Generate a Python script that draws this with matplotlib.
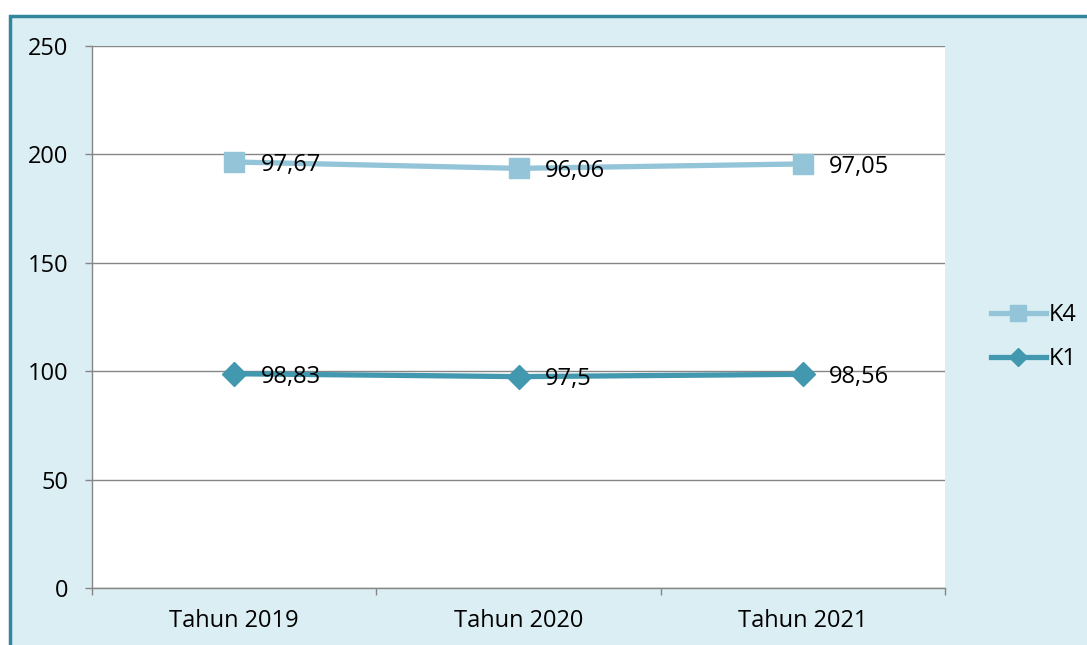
import numpy as np
import matplotlib.pyplot as plt
from matplotlib.patches import Rectangle
from matplotlib.lines import Line2D

plt.rcParams['font.family'] = ['Open Sans', 'DejaVu Sans']

# data (stacked line chart: K4 sits on top of K1)
years = ['Tahun 2019', 'Tahun 2020', 'Tahun 2021']
k1 = [98.83, 97.5, 98.56]
k4 = [97.67, 96.06, 97.05]
k1_labels = ['98,83', '97,5', '98,56']
k4_labels = ['97,67', '96,06', '97,05']

c_k1 = '#4198AF'
c_k4 = '#93C4D7'
grid_c = '#868686'
fs = 17

fig = plt.figure(figsize=(10.87, 6.45), dpi=100)
fig.patch.set_facecolor('white')

# chart area background with border (runs off the right/bottom edge)
bg = Rectangle((10 / 1087, -0.1), 1.2, 1 - 16 / 645 + 0.1, transform=fig.transFigure,
               facecolor='#DBEEF3', edgecolor='#31859C', linewidth=2.5, zorder=-10)
fig.patches.append(bg)

ax = fig.add_axes([92 / 1087, 1 - 588 / 645, (945 - 92) / 1087, (588 - 46) / 645])
ax.set_facecolor('white')

x = np.arange(len(years))
top = np.array(k1) + np.array(k4)

ax.plot(x, top, color=c_k4, lw=3.8, marker='s', ms=15, zorder=3, solid_capstyle='round')
ax.plot(x, k1, color=c_k1, lw=3.8, marker='D', ms=12, zorder=3, solid_capstyle='round')

for xi, yi, t in zip(x, top, k4_labels):
    ax.annotate(t, (xi, yi), xytext=(19, -2), textcoords='offset points',
                ha='left', va='center', fontsize=fs, zorder=4)
for xi, yi, t in zip(x, k1, k1_labels):
    ax.annotate(t, (xi, yi), xytext=(19, -2), textcoords='offset points',
                ha='left', va='center', fontsize=fs, zorder=4)

ax.set_xlim(-0.5, 2.5)
ax.set_ylim(0, 250)
ax.set_yticks(np.arange(0, 251, 50))
ax.yaxis.grid(True, color=grid_c, lw=1)
ax.set_axisbelow(True)

ax.set_xticks([-0.5, 0.5, 1.5, 2.5])
ax.set_xticklabels([])
ax.set_xticks(x, minor=True)
ax.set_xticklabels(years, minor=True)
ax.tick_params(axis='x', which='major', length=5, color=grid_c, width=1)
ax.tick_params(axis='x', which='minor', length=0, labelsize=fs, pad=15)
ax.tick_params(axis='y', length=5, color=grid_c, width=1, labelsize=fs, pad=12)

for s in ['top', 'right']:
    ax.spines[s].set_visible(False)
for s in ['left', 'bottom']:
    ax.spines[s].set_color(grid_c)
    ax.spines[s].set_linewidth(1)

handles = [Line2D([], [], color=c_k4, lw=3.8, marker='s', ms=12),
           Line2D([], [], color=c_k1, lw=3.8, marker='D', ms=9)]
fig.legend(handles, ['K4', 'K1'], loc='center left', bbox_to_anchor=(970 / 1087, 1 - 337 / 645),
           frameon=False, fontsize=fs, handlelength=2.3, labelspacing=0.85, handletextpad=0.15)

fig.savefig('out.png', dpi=100)
